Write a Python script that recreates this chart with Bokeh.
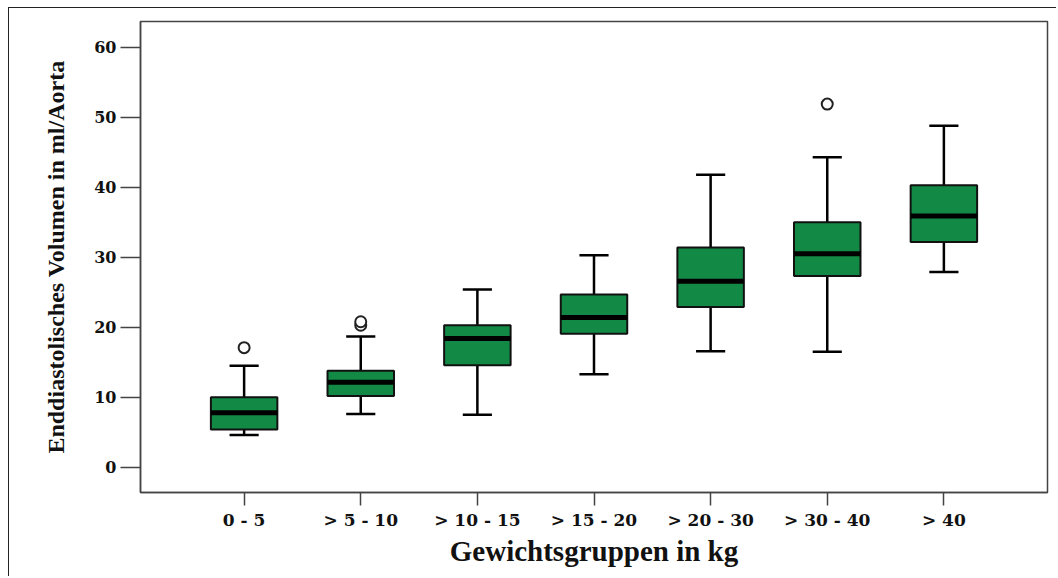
from bokeh.plotting import figure
from bokeh.models import FactorRange, FixedTicker, Range1d
from bokeh.embed import file_html
from bokeh.resources import INLINE

categories = ["0 - 5", "> 5 - 10", "> 10 - 15", "> 15 - 20", "> 20 - 30", "> 30 - 40", "> 40"]
lower_whisker = [4.6, 7.6, 7.5, 13.3, 16.6, 16.5, 27.9]
q1 = [5.4, 10.2, 14.6, 19.1, 22.9, 27.35, 32.2]
median = [7.8, 12.15, 18.4, 21.4, 26.6, 30.5, 35.9]
q3 = [10.0, 13.8, 20.3, 24.7, 31.4, 35.0, 40.3]
upper_whisker = [14.5, 18.7, 25.4, 30.3, 41.8, 44.3, 48.8]
outlier_cat = ["0 - 5", "> 5 - 10", "> 5 - 10", "> 30 - 40"]
outlier_val = [17.1, 20.3, 20.8, 51.9]
y_ticks = [0, 10, 20, 30, 40, 50, 60]

GREEN = "#128a45"

p = figure(width=1048, height=569, output_backend="svg", toolbar_location=None,
           x_range=FactorRange(*categories, range_padding=0.111),
           y_range=Range1d(-3.6, 63.7),
           min_border_left=131, min_border_top=13, min_border_right=10, min_border_bottom=85)
p.styles = {"margin-left": "8px", "margin-top": "7px",
            "border-left": "1.5px solid #222", "border-top": "1.5px solid #222"}

p.segment(x0=categories, y0=q3, x1=categories, y1=upper_whisker, line_color="black", line_width=2.5)
p.segment(x0=categories, y0=lower_whisker, x1=categories, y1=q1, line_color="black", line_width=2.5)
p.rect(x=categories, y=upper_whisker, width=0.25, height=2.5, height_units="screen",
       fill_color="black", line_color=None)
p.rect(x=categories, y=lower_whisker, width=0.25, height=2.5, height_units="screen",
       fill_color="black", line_color=None)
p.vbar(x=categories, bottom=q1, top=q3, width=0.57, fill_color=GREEN,
       line_color="#111111", line_width=2)
p.rect(x=categories, y=median, width=0.57, height=5, height_units="screen",
       fill_color="black", line_color=None)
p.scatter(x=outlier_cat, y=outlier_val, marker="circle", size=11,
          fill_color="white", line_color="#222222", line_width=2)

p.xgrid.visible = False
p.ygrid.visible = False
p.outline_line_color = "#444444"
p.outline_line_width = 1.5

p.yaxis.ticker = FixedTicker(ticks=y_ticks)
for ax in (p.xaxis[0], p.yaxis[0]):
    ax.axis_line_color = "#444444"
    ax.axis_line_width = 1.5
    ax.major_tick_line_color = "#444444"
    ax.major_tick_line_width = 1.5
    ax.major_tick_in = 0
    ax.minor_tick_line_color = None
    ax.major_label_text_font = "DejaVu Serif"
    ax.major_label_text_font_style = "bold"
    ax.major_label_text_color = "#111111"
    ax.axis_label_text_font = "Liberation Serif"
    ax.axis_label_text_font_style = "bold"
    ax.axis_label_text_color = "#111111"

p.yaxis.major_tick_out = 20
p.xaxis.major_tick_out = 13
p.yaxis.major_label_text_font_size = "16px"
p.xaxis.major_label_text_font_size = "17px"
p.yaxis.major_label_standoff = 4
p.xaxis.major_label_standoff = 4
p.xaxis.axis_label = "Gewichtsgruppen in kg"
p.xaxis.axis_label_text_font_size = "29px"
p.xaxis.axis_label_standoff = 2
p.yaxis.axis_label = "Enddiastolisches Volumen in ml/Aorta"
p.yaxis.axis_label_text_font_size = "24px"
p.yaxis.axis_label_standoff = 22

open("out.html", "w").write(file_html(p, INLINE))
